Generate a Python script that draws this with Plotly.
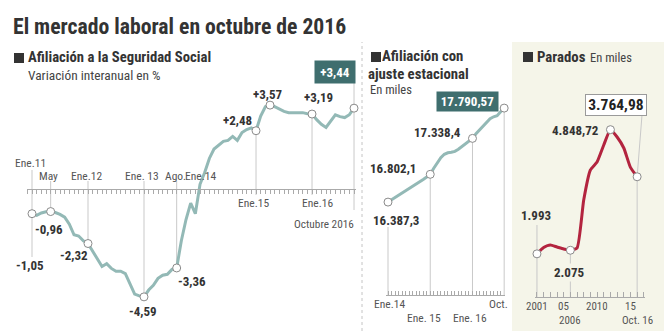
import plotly.graph_objects as go

W, H = 664, 331

# --- Afiliación a la Seguridad Social: variación interanual (%), ene 2011 - oct 2016
afil_var = [-1.05, -1.12, -1.02, -0.97, -0.96, -1.00, -1.08, -1.20, -1.50, -1.95,
            -2.00, -2.20, -2.32, -2.65, -2.95, -3.30, -3.18, -3.38, -3.50, -3.50,
            -3.60, -4.05, -4.47, -4.55, -4.59, -4.30, -4.10, -3.80, -3.67, -3.63,
            -3.42, -3.36, -2.20, -1.30, -0.60, -1.05, 0.20, 0.70, 1.30, 1.70,
            1.85, 2.03, 2.07, 2.24, 2.07, 2.40, 2.53, 2.60, 2.48, 3.10,
            3.50, 3.57, 3.50, 3.40, 3.30, 3.25, 3.25, 3.25, 3.25, 3.20,
            3.19, 2.95, 2.75, 2.62, 2.87, 3.16, 3.08, 3.04, 3.16, 3.44]
afil_var_marks = [0, 4, 12, 24, 31, 48, 51, 60, 69]
afil_var_ticks = ["Ene.11", "May", "Ene.12", "Ene. 13", "Ago.", "Ene.14", "Ene.15", "Ene.16", "Octubre 2016"]
afil_var_tick_pos = [0, 4, 12, 24, 31, 36, 48, 60, 69]

# --- Afiliación con ajuste estacional (miles), ene 2014 - oct 2016
afil_aj = [16387.3, 16420, 16455, 16490, 16522, 16556, 16590, 16622, 16655, 16690,
           16725, 16762, 16802.1, 16892, 16967, 17049, 17101, 17123, 17131, 17145,
           17176, 17220, 17265, 17305, 17338.4, 17407, 17467, 17511, 17571, 17631,
           17661, 17676, 17735, 17790.57]
afil_aj_marks = [0, 12, 24, 33]
afil_aj_ticks = ["Ene.14", "Ene. 15", "Ene. 16", "Oct."]
afil_aj_tick_pos = [0, 12, 24, 33]

# --- Parados (miles), 2001 - octubre 2016
parados_years = list(range(2001, 2017))
parados = [1993, 2139, 2196, 2150, 2104, 2075, 2127, 3231, 3921, 4105,
           4496, 4848.72, 4680, 4427, 3980, 3764.98]
parados_marks = [2001, 2006, 2012, 2016]
parados_ticks = ["2001", "05", "2010", "15", "2006", "Oct. 16"]
parados_tick_pos = [2001, 2005, 2010, 2015, 2006, 2016]

FONT = "Liberation Sans Narrow, Roboto Condensed, Arial Narrow, Roboto, sans-serif"
TEAL = "#93b9b6"
TEAL_DARK = "#3f6e6e"
RED = "#b3243f"
GRID = "#c9c9c9"
TXT = "#333333"
TICK_TXT = "#555555"
BEIGE = "#f5f5e9"


def fx(px):
    return px / W


def fy(py):
    return 1 - py / H


# panel geometry: x domain/range, y domain/range
P = {
    "1": dict(xd=[fx(27), fx(356)], xr=[(27 - 32) / 4.667, (356 - 32) / 4.667],
              yd=[fy(320), fy(40)], yr=[(189 - 320) / 23.5, (189 - 40) / 23.5]),
    "2": dict(xd=[fx(386), fx(505)], xr=[(386 - 388) / 3.52, (505 - 388) / 3.52],
              yd=[fy(295), fy(40)], yr=[15000, 15000 + 255 * 14.93]),
    "3": dict(xd=[fx(535), fx(645)], xr=[2001 - 2 / 6.8, 2001 + 110 / 6.8],
              yd=[fy(297), fy(40)], yr=[1000, 1000 + 257 * 23.0]),
}


def yval(k, py):
    p = P[k]
    f = fy(py)
    return p["yr"][0] + (f - p["yd"][0]) / (p["yd"][1] - p["yd"][0]) * (p["yr"][1] - p["yr"][0])


def xval(k, px):
    p = P[k]
    f = fx(px)
    return p["xr"][0] + (f - p["xd"][0]) / (p["xd"][1] - p["xd"][0]) * (p["xr"][1] - p["xr"][0])


def fmt_es(v, dec, sign=False):
    s = f"{abs(v):,.{dec}f}".replace(",", "X").replace(".", ",").replace("X", ".")
    if v < 0:
        s = "-" + s
    elif sign:
        s = "+" + s
    return s


fig = go.Figure()
shapes = []
ann = []


def note(**kw):
    kw.setdefault("showarrow", False)
    kw.setdefault("xanchor", "center")
    kw.setdefault("yanchor", "middle")
    ann.append(kw)


# background panel and separator
shapes.append(dict(type="rect", xref="paper", yref="paper", x0=fx(512), x1=1, y0=0, y1=fy(42),
                   fillcolor=BEIGE, line_width=0, layer="below"))
shapes.append(dict(type="line", xref="paper", yref="paper", x0=fx(362), x1=fx(362), y0=0, y1=fy(42),
                   line=dict(color="#c4c4c4", width=1, dash="dot"), layer="below"))


def vline(k, x, y0, y1):
    shapes.append(dict(type="line", xref="x" + ("" if k == "1" else k), yref="y" + ("" if k == "1" else k),
                       x0=x, x1=x, y0=y0, y1=y1, line=dict(color=GRID, width=1), layer="below"))


def bold(size, color=TXT):
    return dict(size=size, color=color, family=FONT, weight="bold")


def plain(size, color=TICK_TXT):
    return dict(size=size, color=color, family=FONT)


MARKER = dict(size=8, color="white", line=dict(color="#8a8a8a", width=1))

# ---------- panel 1 ----------
x1 = list(range(len(afil_var)))
fig.add_trace(go.Scatter(x=x1, y=afil_var, mode="lines", line=dict(color=TEAL, width=3),
                         xaxis="x", yaxis="y", hoverinfo="skip"))
fig.add_trace(go.Scatter(x=afil_var_marks, y=[afil_var[i] for i in afil_var_marks], mode="markers",
                         marker=MARKER, xaxis="x", yaxis="y", cliponaxis=False, hoverinfo="skip"))

vline("1", 0, yval("1", 170), yval("1", 257))
for i in [4, 12, 24, 31]:
    vline("1", i, yval("1", 181), afil_var[i])
for i in [48, 60]:
    vline("1", i, afil_var[i], yval("1", 195))
vline("1", 69, afil_var[69], yval("1", 210))
vline("1", 69, afil_var[69], yval("1", 82))

# value labels: (index, xshift, yshift)
lab1 = [(0, -2, -52), (4, -2, -18), (12, -14, -12), (24, -1, -15), (31, 15, -14),
        (48, -19, 10), (51, -2, 11), (60, 6, 17)]
for i, xs, ys in lab1:
    note(x=i, y=afil_var[i], xref="x", yref="y", text=fmt_es(afil_var[i], 2, sign=True),
         xshift=xs, yshift=ys, font=bold(13))
note(x=fx(334.5), y=fy(71.7), xref="paper", yref="paper",
     text=fmt_es(afil_var[69], 2, sign=True), width=38, height=20,
     bgcolor=TEAL_DARK, font=bold(13, "white"))

tick1 = {"Ene.11": (163, -1.5), "May": (176, -2), "Ene.12": (176, -2), "Ene. 13": (176, -2),
         "Ago.": (176, -1.5), "Ene.14": (176, 0), "Ene.15": (203, -3), "Ene.16": (203, 5)}
for t, pos in zip(afil_var_ticks, afil_var_tick_pos):
    if t in tick1:
        py, xs = tick1[t]
        note(x=pos, y=fy(py), xref="x", yref="paper", text=t, xshift=xs, font=plain(11.5))
    else:
        note(x=pos, y=fy(224), xref="x", yref="paper", text=t, xanchor="right", xshift=2,
             font=plain(11.3))

# ---------- panel 2 ----------
x2 = list(range(len(afil_aj)))
fig.add_trace(go.Scatter(x=x2, y=afil_aj, mode="lines", line=dict(color=TEAL, width=3),
                         xaxis="x2", yaxis="y2", hoverinfo="skip"))
fig.add_trace(go.Scatter(x=afil_aj_marks, y=[afil_aj[i] for i in afil_aj_marks], mode="markers",
                         marker=MARKER, xaxis="x2", yaxis="y2", cliponaxis=False, hoverinfo="skip"))
vline("2", 0, yval("2", 227), yval("2", 300))
vline("2", 12, afil_aj[12], yval("2", 311))
vline("2", 24, afil_aj[24], yval("2", 311))
vline("2", 33, afil_aj[33], yval("2", 300))

lab2 = [(0, 8, -18, "center"), (12, -12, 6, "right"), (24, -9, 6, "right")]
for i, xs, ys, xa in lab2:
    note(x=i, y=afil_aj[i], xref="x2", yref="y2", text=fmt_es(afil_aj[i], 1),
         xshift=xs, yshift=ys, xanchor=xa, font=bold(13))
note(x=fx(467), y=fy(101.5), xref="paper", yref="paper",
     text=fmt_es(afil_aj[33], 2), width=59, height=17,
     bgcolor=TEAL_DARK, font=bold(13, "white"))

tick2 = {"Ene.14": (304, 1), "Ene. 15": (318, -6), "Ene. 16": (318, -2), "Oct.": (304, -6)}
for t, pos in zip(afil_aj_ticks, afil_aj_tick_pos):
    py, xs = tick2[t]
    note(x=pos, y=fy(py), xref="x2", yref="paper", text=t, xshift=xs, font=plain(11.5))

# ---------- panel 3 ----------
fig.add_trace(go.Scatter(x=parados_years, y=parados, mode="lines",
                         line=dict(color=RED, width=3, shape="spline", smoothing=0.5),
                         xaxis="x3", yaxis="y3", hoverinfo="skip"))
pm_y = [parados[parados_years.index(yr)] for yr in parados_marks]
fig.add_trace(go.Scatter(x=parados_marks, y=pm_y, mode="markers",
                         marker=MARKER, xaxis="x3", yaxis="y3", cliponaxis=False, hoverinfo="skip"))
vline("3", 2001, yval("3", 225), yval("3", 297))
vline("3", 2006, pm_y[1], yval("3", 317))
vline("3", 2016, pm_y[3], yval("3", 310))
shapes.append(dict(type="line", xref="x3", yref="y3", x0=2016, x1=xval("3", 642),
                   y0=pm_y[3], y1=yval("3", 115), line=dict(color=GRID, width=1), layer="below"))

lab3 = [(0, -1, 38, "center", 0, None), (1, -1, -22, "center", 0, BEIGE),
        (2, -9, -1, "right", 2, None)]
for j, xs, ys, xa, dec, bg in lab3:
    d = dict(x=parados_marks[j], y=pm_y[j], xref="x3", yref="y3", text=fmt_es(pm_y[j], dec),
             xshift=xs, yshift=ys, xanchor=xa, font=bold(13))
    if bg:
        d["bgcolor"] = bg
    note(**d)
note(x=fx(616), y=fy(105), xref="paper", yref="paper",
     text=fmt_es(pm_y[3], 2), width=58, height=18,
     bgcolor="white", bordercolor="#9a9a9a", borderwidth=1, font=bold(15.5, "#222"))

tick3 = {"2001": 306, "05": 306, "2010": 306, "15": 306, "2006": 320, "Oct. 16": 320}
for t, pos in zip(parados_ticks, parados_tick_pos):
    note(x=pos, y=fy(tick3[t]), xref="x3", yref="paper", text=t, font=plain(11),
         borderpad=0, height=13)

# ---------- headers ----------
for x0, y0 in [(14, 53), (371, 52), (523, 52)]:
    shapes.append(dict(type="rect", xref="paper", yref="paper", x0=fx(x0), x1=fx(x0 + 10),
                       y0=fy(y0 + 10), y1=fy(y0), fillcolor="#333", line_width=0))


def head(px, py, text, font, **kw):
    note(x=fx(px), y=fy(py), xref="paper", yref="paper", text=text, xanchor="left", font=font, **kw)


head(11, 26, "El mercado laboral en octubre de 2016", bold(21.7))
head(26, 57, "Afiliación a la Seguridad Social", bold(14.7))
head(26, 75, "Variación interanual en %", plain(13.4, "#444"))
head(381, 56.5, "Afiliación con", bold(14.8), height=16, borderpad=0)
head(367, 73.5, "ajuste estacional", bold(14.8), height=16, borderpad=0)
head(368, 90, "En miles", plain(12.5, "#444"))
head(535, 57, "Parados", bold(14.8))
head(588, 58, "En miles", plain(12.5, "#444"))

hidden_y = dict(visible=False, fixedrange=True)
fig.update_layout(
    width=W, height=H, margin=dict(l=0, r=0, t=0, b=0),
    paper_bgcolor="white", plot_bgcolor="rgba(0,0,0,0)", showlegend=False,
    font=dict(family=FONT, color=TXT),
    xaxis=dict(domain=P["1"]["xd"], range=P["1"]["xr"], anchor="free", position=fy(189),
               showline=True, linecolor="#aaa", linewidth=1, ticks="outside", ticklen=4,
               tickcolor="#aaa", tick0=0, dtick=1, showticklabels=False, showgrid=False,
               zeroline=False),
    yaxis=dict(domain=P["1"]["yd"], range=P["1"]["yr"], **hidden_y),
    xaxis2=dict(domain=P["2"]["xd"], range=P["2"]["xr"], anchor="y2",
                showline=True, linecolor="#aaa", linewidth=1, ticks="inside", ticklen=4,
                tickcolor="#aaa", tick0=0, dtick=1, showticklabels=False, showgrid=False,
                zeroline=False),
    yaxis2=dict(domain=P["2"]["yd"], range=P["2"]["yr"], **hidden_y),
    xaxis3=dict(domain=P["3"]["xd"], range=P["3"]["xr"], anchor="y3",
                showline=True, linecolor="#aaa", linewidth=1, ticks="inside", ticklen=5,
                tickcolor="#aaa", tick0=2001, dtick=1, showticklabels=False, showgrid=False,
                zeroline=False),
    yaxis3=dict(domain=P["3"]["yd"], range=P["3"]["yr"], **hidden_y),
    shapes=shapes, annotations=ann,
)

fig.write_html("out.html")
